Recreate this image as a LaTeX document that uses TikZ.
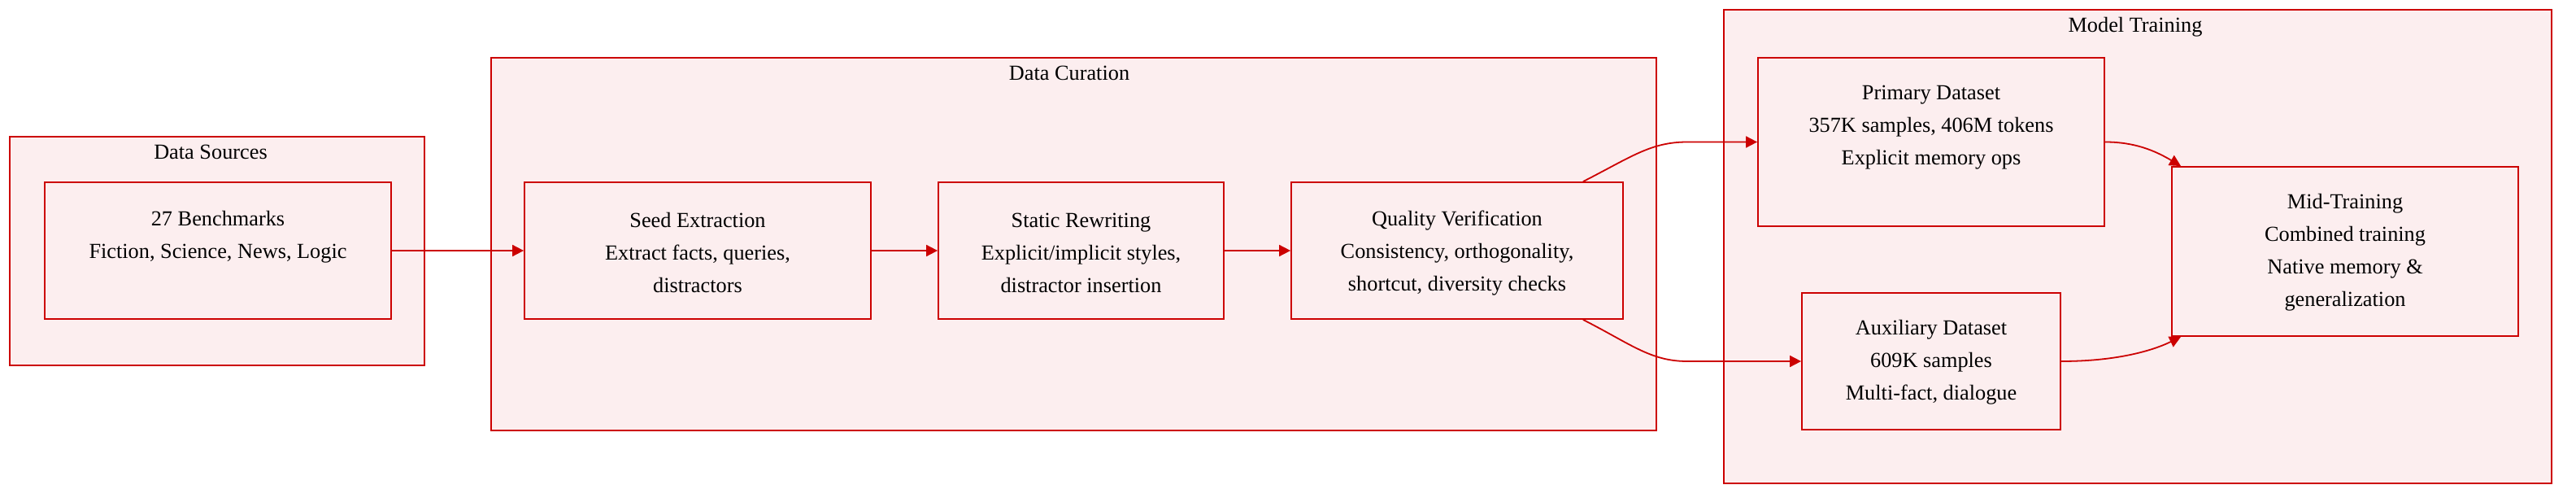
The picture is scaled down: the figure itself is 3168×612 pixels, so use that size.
\documentclass[tikz,border=0pt]{standalone}
\usepackage{fontspec}
\setmainfont{Liberation Serif}
\usetikzlibrary{arrows.meta,fit,calc}
\definecolor{mred}{HTML}{CC0000}
\definecolor{mfill}{HTML}{FCEEEF}
\begin{document}
\begin{tikzpicture}[x=1pt,y=-1pt,
  cluster/.style={draw=mred, fill=mfill, line width=1.6pt, inner sep=0pt},
  box/.style={draw=mred, fill=mfill, line width=1.8pt, inner sep=0pt},
  txt/.style={align=center, font=\fontsize{26.3}{40}\selectfont, text=black, inner sep=0pt},
  ttl/.style={font=\fontsize{26.3}{32}\selectfont, text=black, inner sep=0pt, anchor=base},
  flow/.style={draw=mred, line width=1.8pt, -{Triangle[length=14pt,width=14pt]}},
]
\useasboundingbox (0,0) rectangle (3168,612);
\fill[white] (0,0) rectangle (3168,612);

% clusters
\node[cluster, fit={(12,168) (522,449)}] (src) {};
\node[cluster, fit={(604,71) (2037,529)}] (cur) {};
\node[cluster, fit={(2120,12) (3138,594)}] (trn) {};
\node[ttl] (srcT) at (259,196) {Data Sources};
\node[ttl] (curT) at (1315,99) {Data Curation};
\node[ttl] (trnT) at (2626,40) {Model Training};

% boxes
\node[box, fit={(55,224) (481,392)}] (bench) {};
\node[box, fit={(645,224) (1071,392)}] (seed) {};
\node[box, fit={(1154,224) (1505,392)}] (static) {};
\node[box, fit={(1588,224) (1996,392)}] (qv) {};
\node[box, fit={(2162,71) (2588,278)}] (prim) {};
\node[box, fit={(2216,360) (2534,528)}] (aux) {};
\node[box, fit={(2671,205) (3097,413)}] (mid) {};

% texts
\node[txt] (benchT) at (268,291) {27 Benchmarks\\Fiction, Science, News, Logic};
\node[txt] (seedT) at (858,311) {Seed Extraction\\Extract facts, queries,\\distractors};
\node[txt] (staticT) at (1329.5,311) {Static Rewriting\\Explicit/implicit styles,\\distractor insertion};
\node[txt] (qvT) at (1792,311) {Quality Verification\\Consistency, orthogonality,\\shortcut, diversity checks};
\node[txt] (primT) at (2375,157) {Primary Dataset\\357K samples, 406M tokens\\Explicit memory ops};
\node[txt] (auxT) at (2375,445) {Auxiliary Dataset\\609K samples\\Multi-fact, dialogue};
\node[txt] (midT) at (2884,310) {Mid-Training\\Combined training\\Native memory \&\\generalization};

% edges
\draw[flow] (bench.east) -- (seed.west);
\draw[flow] (seed.east) -- (static.west);
\draw[flow] (static.east) -- (qv.west);
\draw[flow] ([xshift=-50pt]qv.north east) .. controls (2006,193) and (2030,174.5) .. (2075,174.5) -- (prim.west);
\draw[flow] ([xshift=-50pt]qv.south east) .. controls (2006,423) and (2030,444) .. (2075,444) -- (aux.west);
\draw[flow] (prim.east) .. controls (2625,174.5) and (2650,185) .. ([xshift=12pt]mid.north west);
\draw[flow] (aux.east) .. controls (2600,444) and (2645,432) .. ([xshift=12pt]mid.south west);
\end{tikzpicture}
\end{document}
